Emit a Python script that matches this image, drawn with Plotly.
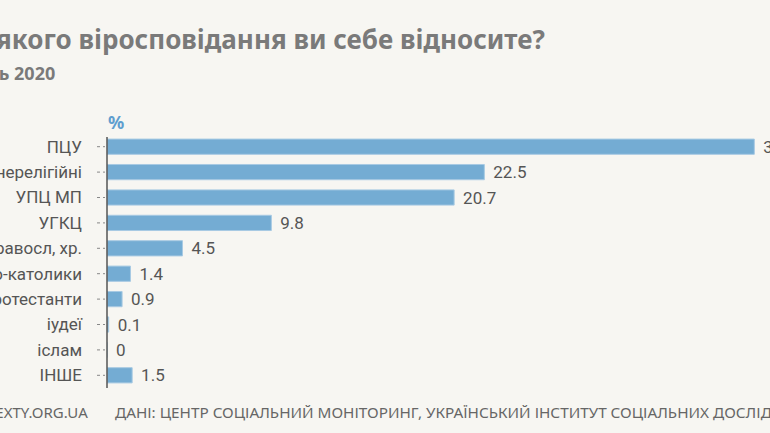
import plotly.graph_objects as go

categories = ["ПЦУ", "нерелігійні", "УПЦ МП", "УГКЦ", "просто правосл, хр.",
              "римо-католики", "протестанти", "іудеї", "іслам", "ІНШЕ"]
values = [38.6, 22.5, 20.7, 9.8, 4.5, 1.4, 0.9, 0.1, 0.0, 1.5]
value_labels = ["38.6", "22.5", "20.7", "9.8", "4.5", "1.4", "0.9", "0.1", "0", "1.5"]

W, H = 770, 433
ML, MR, MT, MB = 107, 0, 134, 45
PW, PH = W - ML - MR, H - MT - MB


def px(x):
    return (x - ML) / PW


def py(y):
    return (H - MB - y) / PH


NARROW = "Roboto, sans-serif"
BOLD = "Noto Sans, Open Sans, sans-serif"

fig = go.Figure()
fig.add_trace(go.Bar(
    x=values, y=categories, orientation="h",
    marker=dict(color="#74acd3", line=dict(color="#a8cae3", width=1)),
    width=0.6,
    text=value_labels, texttemplate="\u00a0\u200a%{text}",
    textposition="outside", cliponaxis=False,
    constraintext="none",
    textfont=dict(family=NARROW, size=17, color="#555555"),
    hoverinfo="skip",
))

shapes = []
for c in categories:
    shapes.append(dict(type="line", xref="paper", yref="y", x0=px(97), x1=px(105),
                       y0=c, y1=c, line=dict(color="#888888", width=1, dash="dot")))
shapes.append(dict(type="line", xref="paper", yref="paper", x0=0, x1=0,
                   y0=py(388), y1=py(137), line=dict(color="#555555", width=1.5)))

annotations = [
    dict(text="<b>До якого віросповідання ви себе відносите?</b>", xref="paper", yref="paper",
         x=px(547), y=py(39), xanchor="right", yanchor="middle", showarrow=False,
         font=dict(family=BOLD, size=26, color="#7a7a7a")),
    dict(text="<b>Березень 2020</b>", xref="paper", yref="paper",
         x=px(57), y=py(73), xanchor="right", yanchor="middle", showarrow=False,
         font=dict(family=BOLD, size=18, color="#7a7a7a")),
    dict(text="<b>%</b>", xref="paper", yref="paper",
         x=px(106), y=py(122), xanchor="left", yanchor="middle", showarrow=False,
         font=dict(family=BOLD, size=18, color="#5f9ecf")),
    dict(text="TEXTY.ORG.UA", xref="paper", yref="paper",
         x=px(90), y=py(412), xanchor="right", yanchor="middle", showarrow=False,
         font=dict(family=BOLD, size=15, color="#666666")),
    dict(text="ДАНІ: ЦЕНТР СОЦІАЛЬНИЙ МОНІТОРИНГ, УКРАЇНСЬКИЙ ІНСТИТУТ СОЦІАЛЬНИХ ДОСЛІДЖЕНЬ ІМ. О. ЯРЕМЕНКА",
         xref="paper", yref="paper",
         x=px(113), y=py(412), xanchor="left", yanchor="middle", showarrow=False,
         font=dict(family=BOLD, size=15.3, color="#666666")),
]

fig.update_layout(
    width=W, height=H,
    margin=dict(l=ML, r=MR, t=MT, b=MB, pad=0, autoexpand=False),
    paper_bgcolor="#f7f6f2", plot_bgcolor="#f7f6f2",
    showlegend=False,
    xaxis=dict(range=[0, PW / 16.77], visible=False, fixedrange=True, automargin=False),
    yaxis=dict(categoryorder="array", categoryarray=categories, autorange="reversed",
               showgrid=False, zeroline=False, showline=False, ticks="",
               ticklabelstandoff=24, automargin=False,
               tickfont=dict(family=NARROW, size=17, color="#555555"), fixedrange=True),
    shapes=shapes, annotations=annotations,
)

fig.write_html("out.html", config={"displayModeBar": False},
               post_script="document.body.style.margin='0';document.body.style.overflow='hidden';document.body.style.background='#f7f6f2';")
